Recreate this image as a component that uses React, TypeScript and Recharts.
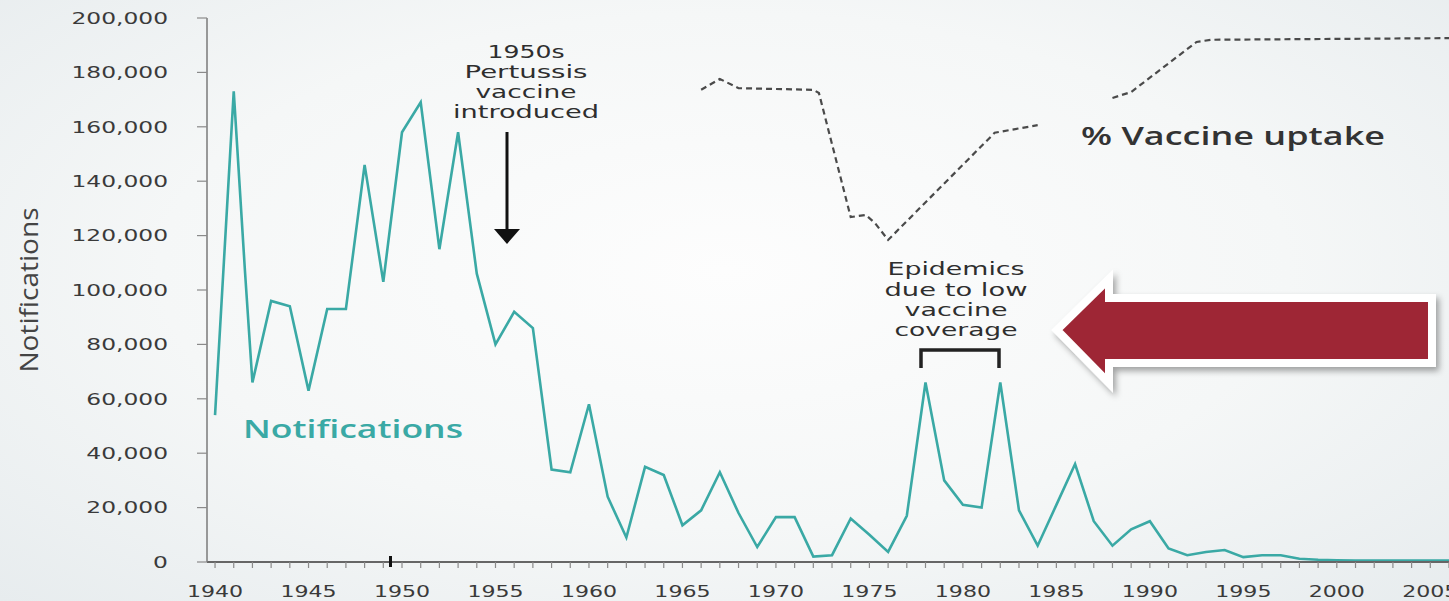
import { LineChart, Line, XAxis, YAxis } from 'recharts';

// notifications per year; 1941.6 is the kink on the 1941 drop
const notifYears = [
  1940, 1941, 1941.6, 1942, 1943, 1944, 1945, 1946, 1947, 1948, 1949, 1950, 1951, 1952, 1953,
  1954, 1955, 1956, 1957, 1958, 1959, 1960, 1961, 1962, 1963, 1964, 1965, 1966, 1967, 1968,
  1969, 1970, 1971, 1972, 1973, 1974, 1975, 1976, 1977, 1978, 1979, 1980, 1981, 1982, 1983,
  1984, 1985, 1986, 1987, 1988, 1989, 1990, 1991, 1992, 1993, 1994, 1995, 1996, 1997, 1998,
  1999, 2000, 2001, 2002, 2003, 2004, 2005, 2006,
];
const notifValues = [
  54000, 173000, 107000, 66000, 96000, 94000, 63000, 93000, 93000, 146000, 103000, 158000,
  169000, 115000, 158000, 106000, 80000, 92000, 86000, 34000, 33000, 58000, 24000, 9000,
  35000, 32000, 13500, 19000, 33000, 18000, 5500, 16500, 16500, 2000, 2500, 16000, 10000,
  3700, 17000, 66000, 30000, 21000, 20000, 66000, 19000, 6000, 21000, 36000, 15000, 6000,
  12000, 15000, 5000, 2500, 3700, 4400, 1800, 2500, 2500, 1200, 800, 600, 500, 500, 500,
  500, 500, 500,
];

// % vaccine uptake (dashed line, own hidden scale); null = gap in the line
const uptakeYears = [
  1966, 1967, 1968, 1972, 1972.3, 1974, 1974.8, 1975.3, 1976, 1981.7, 1982.5, 1984, 1986,
  1988, 1989, 1992.5, 1993.3, 2006,
];
const uptakeValues = [
  86.8, 88.8, 87.1, 86.8, 86.2, 63.4, 63.8, 62.3, 59.2, 78.9, 79.4, 80.3, null, 85.3, 86.4,
  95.6, 96.0, 96.3,
];

const yTicks = [0, 20000, 40000, 60000, 80000, 100000, 120000, 140000, 160000, 180000, 200000];
const labelYears = [1940, 1945, 1950, 1955, 1960, 1965, 1970, 1975, 1980, 1985, 1990, 1995, 2000, 2005];
const minorTicks = Array.from({ length: 67 }, (_, i) => 1940 + i);

const notifData = notifYears.map((year, i) => ({ year, notifications: notifValues[i] }));
const uptakeData = uptakeYears.map((year, i) => ({ year, uptake: uptakeValues[i] }));

const TEAL = '#3aa9a5';
const TEXT = '#2e2e2e';
const AXIS = '#7a7a7a';
const RED = '#9e2835';

function YTick({ x, y, payload }: any) {
  return (
    <g transform={`translate(${x},${y}) scale(1.46,1)`}>
      <text x={0} y={0} dy={5.8} textAnchor="end" fontFamily="DejaVu Sans" fontSize={16} fill="#3a3a3a">
        {Number(payload.value).toLocaleString('en-US')}
      </text>
    </g>
  );
}

function XTick({ x, y, payload }: any) {
  if (!labelYears.includes(payload.value)) return <g />;
  return (
    <g transform={`translate(${x},${y + 29}) scale(1.38,1)`}>
      <text x={0} y={0} textAnchor="middle" fontFamily="DejaVu Sans" fontSize={16} fill="#3a3a3a">
        {payload.value}
      </text>
    </g>
  );
}

function Lines({ x, ys, lens, size = 18, weight = 400 }: { x: number; ys: number[]; lens: [string, number][]; size?: number; weight?: number }) {
  return (
    <>
      {lens.map(([t, w], i) => (
        <text
          key={t}
          x={x}
          y={ys[i]}
          textAnchor="middle"
          fontFamily="DejaVu Sans"
          fontSize={size}
          fontWeight={weight}
          fill={TEXT}
          textLength={w}
          lengthAdjust="spacingAndGlyphs"
        >
          {t}
        </text>
      ))}
    </>
  );
}

export default function App() {
  return (
    <div
      style={{
        position: 'relative',
        width: 1449,
        height: 601,
        overflow: 'hidden',
        background: 'radial-gradient(ellipse at 50% 45%, #fdfdfd 0%, #f5f7f7 55%, #e7ecee 100%)',
      }}
    >
      <style>{'body{margin:0}'}</style>
      <LineChart width={1449} height={601} margin={{ top: 18, right: 0, bottom: 0, left: 0 }}>
        <XAxis
          dataKey="year"
          type="number"
          domain={[1939.57, 2006]}
          allowDataOverflow
          ticks={minorTicks}
          interval={0}
          tick={<XTick />}
          tickSize={6}
          tickMargin={0}
          height={39}
          axisLine={{ stroke: '#666', strokeWidth: 2 }}
          tickLine={{ stroke: '#8a8a8a', strokeWidth: 1.2 }}
        />
        <YAxis
          yAxisId="n"
          domain={[0, 200000]}
          ticks={yTicks}
          interval={0}
          width={207}
          tick={<YTick />}
          tickSize={10}
          tickMargin={29}
          axisLine={{ stroke: AXIS, strokeWidth: 1.5 }}
          tickLine={{ stroke: '#8a8a8a', strokeWidth: 1.2 }}
        />
        <YAxis yAxisId="pct" orientation="right" domain={[0, 100]} hide />
        <Line
          yAxisId="pct"
          data={uptakeData}
          dataKey="uptake"
          stroke="#4a4a4a"
          strokeWidth={2.2}
          strokeDasharray="6 4"
          dot={false}
          connectNulls={false}
          isAnimationActive={false}
        />
        <Line
          yAxisId="n"
          data={notifData}
          dataKey="notifications"
          stroke={TEAL}
          strokeWidth={2.6}
          dot={false}
          isAnimationActive={false}
        />
      </LineChart>

      <svg
        width={1449}
        height={601}
        style={{ position: 'absolute', left: 0, top: 0, pointerEvents: 'none' }}
      >
        <defs>
          <filter id="shadow" x="-10%" y="-30%" width="130%" height="170%">
            <feDropShadow dx="3" dy="4" stdDeviation="3" floodColor="#000" floodOpacity="0.35" />
          </filter>
        </defs>

        <text
          transform="translate(38,290) rotate(-90)"
          textAnchor="middle"
          fontFamily="Open Sans"
          fontSize={25}
          fill="#444"
          textLength={165}
          lengthAdjust="spacingAndGlyphs"
        >
          Notifications
        </text>

        <text
          x={243}
          y={438}
          fontFamily="Open Sans"
          fontSize={25}
          fontWeight={600}
          fill={TEAL}
          textLength={220}
          lengthAdjust="spacingAndGlyphs"
        >
          Notifications
        </text>

        <text
          x={1081}
          y={145}
          fontFamily="Open Sans"
          fontSize={26}
          fontWeight={600}
          fill="#333"
          textLength={304}
          lengthAdjust="spacingAndGlyphs"
        >
          % Vaccine uptake
        </text>

        <Lines
          x={526}
          ys={[58, 78, 98, 118]}
          lens={[
            ['1950s', 77],
            ['Pertussis', 123],
            ['vaccine', 101],
            ['introduced', 146],
          ]}
        />
        <line x1={507} y1={132} x2={507} y2={232} stroke="#111" strokeWidth={3} />
        <polygon points="494,229 520,229 507,244" fill="#111" />

        <Lines
          x={956}
          ys={[275, 296, 316, 336]}
          size={17}
          lens={[
            ['Epidemics', 137],
            ['due to low', 143],
            ['vaccine', 103],
            ['coverage', 123],
          ]}
        />
        <polyline points="921,368 921,350 999,350 999,368" fill="none" stroke="#222" strokeWidth={3.5} />

        <rect x={389} y={556} width={3} height={11} fill="#111" />

        <polygon
          points="1057,330 1109,279 1109,298 1432,298 1432,363 1109,363 1109,383"
          fill={RED}
          stroke="#fff"
          strokeWidth={8}
          strokeLinejoin="miter"
          filter="url(#shadow)"
        />
      </svg>
    </div>
  );
}
